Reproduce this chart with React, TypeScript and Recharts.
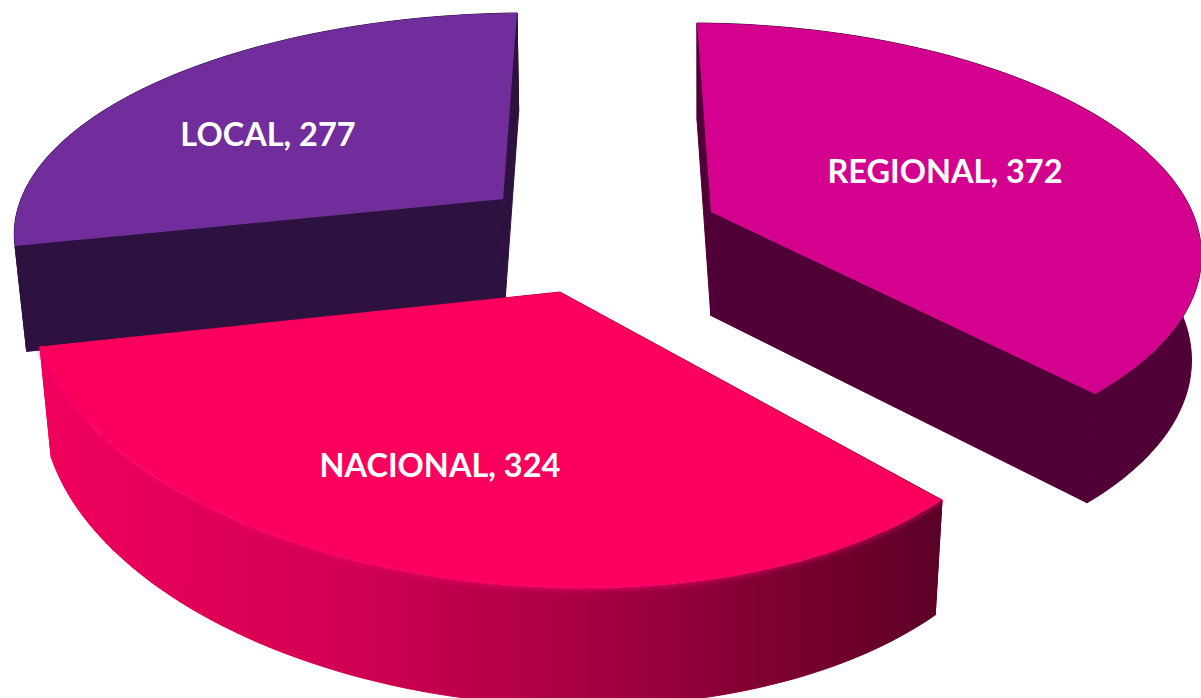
import * as React from "react"
import { PieChart, Pie } from "recharts"

const sectorNames = ["LOCAL", "REGIONAL", "NACIONAL"]
const sectorValues = [277, 372, 324]
const chartData = sectorNames.map((name, i) => ({ name, value: sectorValues[i] }))

const total = sectorValues.reduce((sum, v) => sum + v, 0)
// REGIONAL starts at 12 o'clock, going clockwise
const START_ANGLE = 90 + (sectorValues[0] / total) * 360

type Pt = [number, number]

// how each exploded slice lands on the page (tilted, with perspective)
const projections: Record<string, any> = {
  LOCAL: {
    apex: [503, 199], start: [15, 246], end: [517, 13], mid: [162, 80],
    vanX: 600, depth: 104, top: "#702d9b", wall: "#2d1240", label: [268, 133],
  },
  REGIONAL: {
    apex: [711, 212], start: [697, 23], end: [1095, 394], mid: [1130, 138],
    vanX: 700, depth: 103, top: "#d4008e", wall: "#500036", label: [945, 170],
  },
  NACIONAL: {
    apex: [560, 292], start: [942, 500], end: [40, 347], mid: [430, 576],
    vanX: 600, depth: 106, top: "#fb005c", wall: "url(#nacionalWall)", label: [440, 464],
    rim: "#ff1476",
  },
}

function solve(m: number[][]) {
  const n = m.length
  for (let i = 0; i < n; i++) {
    let p = i
    for (let r = i + 1; r < n; r++) if (Math.abs(m[r][i]) > Math.abs(m[p][i])) p = r
    ;[m[i], m[p]] = [m[p], m[i]]
    for (let r = 0; r < n; r++) {
      if (r === i) continue
      const f = m[r][i] / m[i][i]
      for (let c = i; c <= n; c++) m[r][c] -= f * m[i][c]
    }
  }
  return m.map((row, i) => row[n] / row[i])
}

const unit = (deg: number): Pt => [Math.cos((deg * Math.PI) / 180), Math.sin((deg * Math.PI) / 180)]

// homography taking the unit pie slice onto the four points
function makeProjection(startAngle: number, endAngle: number, g: any) {
  const src = [[0, 0], unit(startAngle), unit(endAngle), unit((startAngle + endAngle) / 2)]
  const dst = [g.apex, g.start, g.end, g.mid]
  const rows: number[][] = []
  src.forEach(([x, y], i) => {
    const [X, Y] = dst[i]
    rows.push([x, y, 1, 0, 0, 0, -x * X, -y * X, X])
    rows.push([0, 0, 0, x, y, 1, -x * Y, -y * Y, Y])
  })
  const [a, b, c, d, e, f, h, k] = solve(rows)
  return ([x, y]: Pt): Pt => {
    const w = h * x + k * y + 1
    return [(a * x + b * y + c) / w, (d * x + e * y + f) / w]
  }
}

const toLine = (pts: Pt[]) => "M" + pts.map((p) => `${p[0].toFixed(1)},${p[1].toFixed(1)}`).join("L")
const toPath = (pts: Pt[]) => toLine(pts) + "Z"

function Slice3D(props: any) {
  const { startAngle, endAngle } = props
  const g = projections[props.name ?? props.payload?.name]
  const project = makeProjection(startAngle, endAngle, g)
  const drop = ([x, y]: Pt): Pt => [x + (g.vanX - x) * 0.02, y + g.depth + (y - 200) * 0.03]

  const arc: Pt[] = []
  for (let i = 0; i <= 80; i++) {
    arc.push(project(unit(startAngle + ((endAngle - startAngle) * i) / 80)))
  }
  const apex: Pt = g.apex
  const first = arc[0]
  const last = arc[arc.length - 1]
  const wallStyle = { fill: g.wall, stroke: g.wall, strokeWidth: 1 }

  return (
    <g>
      <path d={toPath([first, apex, drop(apex), drop(first)])} {...wallStyle} />
      <path d={toPath([last, apex, drop(apex), drop(last)])} {...wallStyle} />
      <path d={toPath([...arc, ...arc.map(drop).reverse()])} {...wallStyle} />
      <path d={toPath([apex, ...arc])} fill={g.top} />
      {g.rim && (
        <path d={toLine(arc)} fill="none" stroke={g.rim} strokeWidth={3} strokeOpacity={0.8} filter="url(#softEdge)" />
      )}
    </g>
  )
}

function SliceLabel(props: any) {
  const g = projections[props.name ?? props.payload?.name]
  return (
    <text
      x={g.label[0]}
      y={g.label[1]}
      textAnchor="middle"
      dominantBaseline="central"
      fill="#ffffff"
      fontFamily="Lato, 'Open Sans', sans-serif"
      fontWeight={700}
      fontSize={32.5}
    >
      {`${props.name}, ${props.value}`}
    </text>
  )
}

export default function App() {
  return (
    <div style={{ position: "absolute", left: 0, top: 0, width: 1201, height: 698, overflow: "hidden", background: "#fff" }}>
      <PieChart width={1201} height={698} margin={{ top: 0, right: 0, bottom: 0, left: 0 }}>
        <defs>
          <linearGradient id="nacionalWall" gradientUnits="userSpaceOnUse" x1="40" y1="0" x2="945" y2="0">
            <stop offset="0%" stopColor="#f0005c" />
            <stop offset="35%" stopColor="#d00052" />
            <stop offset="60%" stopColor="#a80042" />
            <stop offset="82%" stopColor="#7c0030" />
            <stop offset="100%" stopColor="#5a0026" />
          </linearGradient>
          <filter id="softEdge" x="-5%" y="-5%" width="110%" height="110%">
            <feGaussianBlur stdDeviation="2.5" />
          </filter>
        </defs>
        <Pie
          data={chartData}
          dataKey="value"
          nameKey="name"
          cx={600}
          cy={350}
          outerRadius={300}
          startAngle={START_ANGLE}
          endAngle={START_ANGLE - 360}
          stroke="none"
          shape={Slice3D}
          label={SliceLabel}
          labelLine={false}
          isAnimationActive={false}
        />
      </PieChart>
    </div>
  )
}
